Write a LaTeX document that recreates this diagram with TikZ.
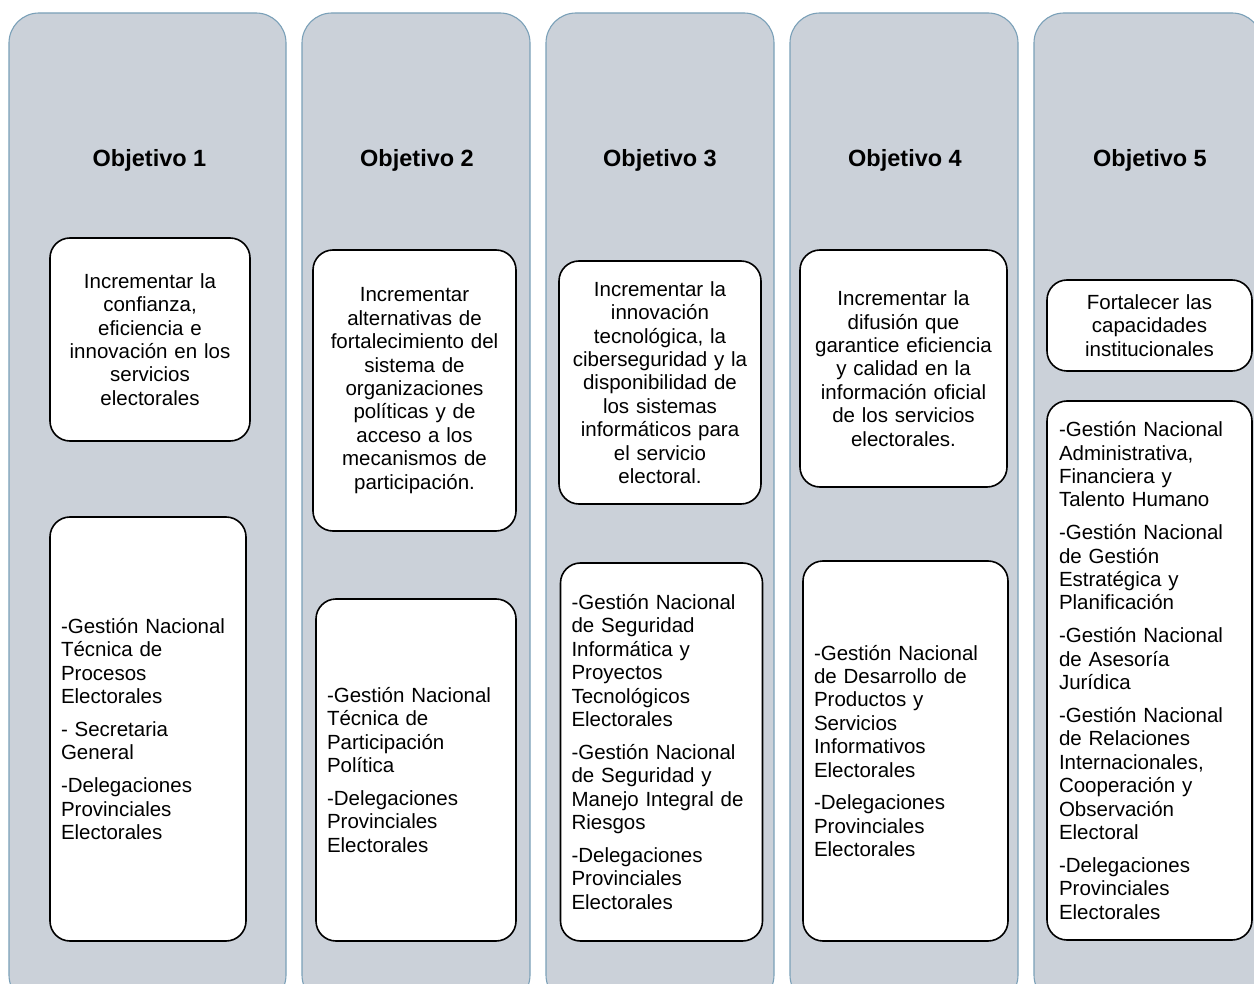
\documentclass[tikz,border=0pt]{standalone}
\usepackage{fontspec}
\setmainfont{Liberation Sans}
\definecolor{colfill}{RGB}{203,209,217}
\definecolor{colline}{RGB}{122,160,184}
\tikzset{
  colbox/.style={draw=colline, line width=1.1pt, fill=colfill, rounded corners=30pt, inner sep=0pt},
  heading/.style={font=\bfseries\fontsize{23.5pt}{28pt}\selectfont, inner sep=0pt},
  objbox/.style={draw=black, line width=1.6pt, fill=white, rounded corners=20pt, inner xsep=11pt, inner ysep=2pt, align=center, font=\fontsize{20.5pt}{23.4pt}\selectfont},
  unitbox/.style={draw=black, line width=1.6pt, fill=white, rounded corners=20pt, inner xsep=11pt, inner ysep=2pt, align=left, font=\fontsize{20.5pt}{23.4pt}\selectfont}
}
\newcommand{\pg}{\\[9.5pt]}
\begin{document}
\begin{tikzpicture}[x=1pt,y=-1pt]
\useasboundingbox (0,0) rectangle (1254,984);
\clip (0,0) rectangle (1254,984);
% columns
\node[colbox, minimum width=277pt, minimum height=992pt] (c1) at (147.5,509) {};
\node[colbox, minimum width=228pt, minimum height=992pt] (c2) at (416,509) {};
\node[colbox, minimum width=228pt, minimum height=992pt] (c3) at (660,509) {};
\node[colbox, minimum width=228pt, minimum height=992pt] (c4) at (904,509) {};
\node[colbox, minimum width=228pt, minimum height=992pt] (c5) at (1148,509) {};
% headings
\node[heading] (h1) at (149.5,160) {Objetivo 1};
\node[heading] (h2) at (417,160) {Objetivo 2};
\node[heading] (h3) at (660,160) {Objetivo 3};
\node[heading] (h4) at (905,160) {Objetivo 4};
\node[heading] (h5) at (1150,160) {Objetivo 5};
% objective boxes
\node[objbox, text width=178pt, minimum height=203pt] (o1) at (150,339.5)
 {Incrementar la\\confianza,\\eficiencia e\\innovación en los\\servicios\\electorales};
\node[objbox, text width=181pt, minimum height=281pt] (o2) at (414.5,390.5)
 {Incrementar\\alternativas de\\fortalecimiento del\\sistema de\\organizaciones\\políticas y de\\acceso a los\\mecanismos de\\participación.};
\node[objbox, text width=180pt, minimum height=243pt] (o3) at (660,382.5)
 {Incrementar la\\innovación\\tecnológica, la\\ciberseguridad y la\\disponibilidad de\\los sistemas\\informáticos para\\el servicio\\electoral.};
\node[objbox, text width=185pt, minimum height=237pt] (o4) at (903.5,368.5)
 {Incrementar la\\difusión que\\garantice eficiencia\\y calidad en la\\información oficial\\de los servicios\\electorales.};
\node[objbox, text width=183pt, minimum height=91pt] (o5) at (1149.5,325.5)
 {Fortalecer las\\capacidades\\institucionales};
% unit boxes
\node[unitbox, text width=174pt, minimum height=424pt] (u1) at (148,729)
 {-Gestión Nacional\\Técnica de\\Procesos\\Electorales\pg
  - Secretaria\\General\pg
  -Delegaciones\\Provinciales\\Electorales};
\node[unitbox, text width=178pt, minimum height=342pt] (u2) at (416,770)
 {-Gestión Nacional\\Técnica de\\Participación\\Política\pg
  -Delegaciones\\Provinciales\\Electorales};
\node[unitbox, text width=180pt, minimum height=378pt] (u3) at (661.5,752)
 {-Gestión Nacional\\de Seguridad\\Informática y\\Proyectos\\Tecnológicos\\Electorales\pg
  -Gestión Nacional\\de Seguridad y\\Manejo Integral de\\Riesgos\pg
  -Delegaciones\\Provinciales\\Electorales};
\node[unitbox, text width=183pt, minimum height=380pt] (u4) at (905.5,751)
 {-Gestión Nacional\\de Desarrollo de\\Productos y\\Servicios\\Informativos\\Electorales\pg
  -Delegaciones\\Provinciales\\Electorales};
\node[unitbox, text width=181pt, inner xsep=12pt, minimum height=539pt] (u5) at (1149.5,670.5)
 {-Gestión Nacional\\Administrativa,\\Financiera y\\Talento Humano\pg
  -Gestión Nacional\\de Gestión\\Estratégica y\\Planificación\pg
  -Gestión Nacional\\de Asesoría\\Jurídica\pg
  -Gestión Nacional\\de Relaciones\\Internacionales,\\Cooperación y\\Observación\\Electoral\pg
  -Delegaciones\\Provinciales\\Electorales};
\end{tikzpicture}
\end{document}
